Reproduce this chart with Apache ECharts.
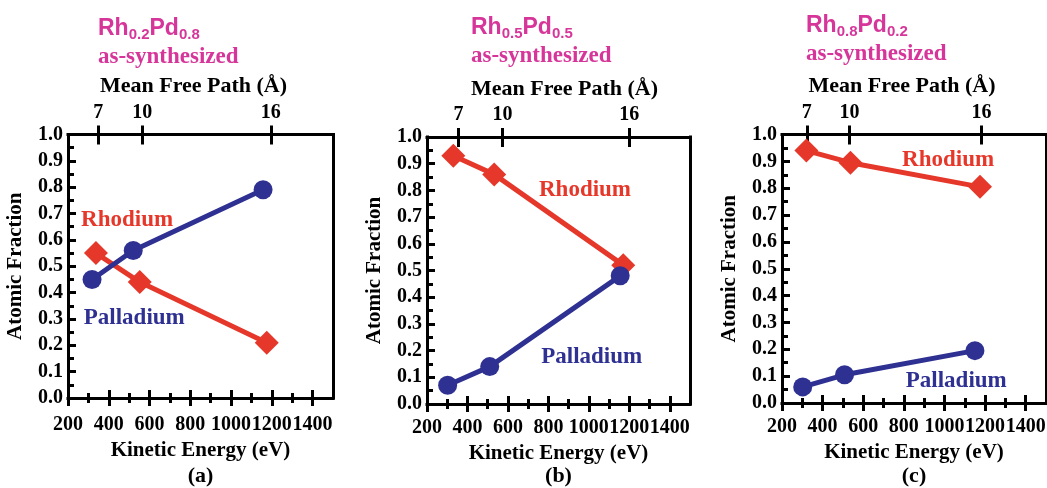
<!DOCTYPE html>
<html>
<head>
<meta charset="utf-8">
<title>Rh–Pd atomic fraction vs kinetic energy</title>
<script src="https://cdn.jsdelivr.net/npm/echarts@6/dist/echarts.min.js"></script>
<style>
  html, body { margin: 0; padding: 0; background: #ffffff; }
  #chart { width: 1047px; height: 488px; }
</style>
</head>
<body>
<div id="chart"></div>
<script>
// ---- data ----
// Compositions of the three as-synthesized samples
const rhComposition = ['0.2', '0.5', '0.8'];
const pdComposition = ['0.8', '0.5', '0.2'];
const panelLetters = ['(a)', '(b)', '(c)'];

// Kinetic energies (eV) of the Pd and Rh photoelectrons
const pdEnergyA = [318, 520, 1157];
const rhEnergyA = [337, 552, 1175];
const pdEnergyB = [302, 510, 1155];
const rhEnergyB = [330, 532, 1170];
const pdEnergyC = [302, 508, 1150];
const rhEnergyC = [320, 537, 1175];

// Atomic fractions
const pdFractionA = [0.45, 0.56, 0.79];
const rhFractionA = [0.55, 0.44, 0.21];
const pdFractionB = [0.07, 0.14, 0.48];
const rhFractionB = [0.93, 0.86, 0.52];
const pdFractionC = [0.06, 0.105, 0.195];
const rhFractionC = [0.94, 0.895, 0.805];

// Bottom axis ticks (eV)
const kineticTicks = [200, 400, 600, 800, 1000, 1200, 1400];
const kineticMinorTicks = [300, 500, 700, 900, 1100, 1300];

// Top axis: mean free path (Å) and the kinetic energy where each falls
const mfpLabels = ['7', '10', '16'];
const mfpEnergyA = [348, 564, 1195];
const mfpEnergyB = [356, 573, 1200];
const mfpEnergyC = [322, 532, 1183];

// Where the element names sit, in data coordinates [eV, fraction]
const rhNamePos = [[490, 0.675], [981, 0.80], [1018, 0.905]];
const pdNamePos = [[525, 0.304], [1014, 0.174], [1058, 0.082]];

// ---- styling / layout ----
const RED = '#e6382a';
const BLUE = '#2f3192';
const MAGENTA = '#d6369a';
const SERIF = '"Liberation Serif", "Times New Roman", serif';
const SANS = '"Liberation Sans", Arial, sans-serif';

const panels = [
  { grid: { left: 68, top: 134.5, width: 265, height: 263.5 }, titleLeft: 98, titleTop: 15,
    xGap: 42, xMargin: 17, mfpPad: [0, 14, 0, 0],
    pdE: pdEnergyA, rhE: rhEnergyA, pdF: pdFractionA, rhF: rhFractionA, mfpE: mfpEnergyA },
  { grid: { left: 427, top: 137, width: 263, height: 267 }, titleLeft: 471, titleTop: 14,
    xGap: 33, xMargin: 14, mfpPad: [0, 0, 0, 12],
    pdE: pdEnergyB, rhE: rhEnergyB, pdF: pdFractionB, rhF: rhFractionB, mfpE: mfpEnergyB },
  { grid: { left: 782, top: 134.5, width: 264, height: 268.5 }, titleLeft: 806, titleTop: 12,
    xGap: 36, xMargin: 14, mfpPad: [0, 24, 0, 0],
    pdE: pdEnergyC, rhE: rhEnergyC, pdF: pdFractionC, rhF: rhFractionC, mfpE: mfpEnergyC }
];

const black = { color: '#000', width: 3, cap: 'square' };
const tickFont = { color: '#000', fontFamily: SERIF, fontWeight: 'bold', fontSize: 20 };
const nameFont = { color: '#000', fontFamily: SERIF, fontWeight: 'bold', fontSize: 21 };
const tickLine = { color: '#000', width: 3 };

const option = {
  animation: false,
  backgroundColor: '#ffffff',
  grid: [], xAxis: [], yAxis: [], series: [], title: [], graphic: []
};

panels.forEach((p, i) => {
  option.grid.push(Object.assign({ containLabel: false, outerBoundsMode: 'none' }, p.grid));

  const baseX = {
    gridIndex: i, type: 'value', min: 200, max: 1500,
    splitLine: { show: false }
  };
  const hiddenLine = { show: false, onZero: false };
  const xBase = i * 6;

  // bottom axis: line, labels, outward major ticks
  option.xAxis.push(Object.assign({}, baseX, {
    position: 'bottom',
    name: 'Kinetic Energy (eV)', nameLocation: 'middle', nameGap: p.xGap,
    nameTextStyle: nameFont,
    axisLine: { show: true, onZero: false, lineStyle: black },
    axisTick: { show: true, inside: false, length: 8, customValues: kineticTicks, lineStyle: tickLine },
    axisLabel: Object.assign({ customValues: kineticTicks, margin: p.xMargin, formatter: (v) => String(v) }, tickFont)
  }));
  // bottom axis: inward major ticks
  option.xAxis.push(Object.assign({}, baseX, {
    position: 'bottom', axisLine: hiddenLine, axisLabel: { show: false },
    axisTick: { show: true, inside: true, length: 8, customValues: kineticTicks, lineStyle: tickLine }
  }));
  // bottom axis: outward minor ticks
  option.xAxis.push(Object.assign({}, baseX, {
    position: 'bottom', axisLine: hiddenLine, axisLabel: { show: false },
    axisTick: { show: true, inside: false, length: 5, customValues: kineticMinorTicks, lineStyle: tickLine }
  }));
  // bottom axis: inward minor ticks
  option.xAxis.push(Object.assign({}, baseX, {
    position: 'bottom', axisLine: hiddenLine, axisLabel: { show: false },
    axisTick: { show: true, inside: true, length: 5, customValues: kineticMinorTicks, lineStyle: tickLine }
  }));
  // top axis: mean free path, outward ticks + labels
  option.xAxis.push(Object.assign({}, baseX, {
    position: 'top',
    name: 'Mean Free Path (Å)', nameLocation: 'middle', nameGap: 35,
    nameTextStyle: Object.assign({ padding: p.mfpPad }, nameFont, { fontSize: 22 }),
    axisLine: { show: true, onZero: false, lineStyle: black },
    axisTick: { show: true, inside: false, length: 9, customValues: p.mfpE, lineStyle: tickLine },
    axisLabel: Object.assign({
      customValues: p.mfpE, margin: 12,
      formatter: (v) => {
        const k = p.mfpE.indexOf(v);
        return k >= 0 ? mfpLabels[k] : '';
      }
    }, tickFont)
  }));
  // top axis: inward ticks
  option.xAxis.push(Object.assign({}, baseX, {
    position: 'top', axisLine: hiddenLine, axisLabel: { show: false },
    axisTick: { show: true, inside: true, length: 10, customValues: p.mfpE, lineStyle: tickLine }
  }));

  // left axis: atomic fraction
  option.yAxis.push({
    gridIndex: i, type: 'value', position: 'left', min: 0, max: 1, interval: 0.1,
    name: 'Atomic Fraction', nameLocation: 'middle', nameGap: 42, nameRotate: 90,
    nameTextStyle: nameFont,
    splitLine: { show: false },
    axisLine: { show: true, onZero: false, lineStyle: black },
    axisTick: { show: true, inside: true, length: 8, lineStyle: tickLine },
    minorTick: { show: true, splitNumber: 2, length: 6, lineStyle: tickLine },
    axisLabel: Object.assign({ margin: 5, formatter: (v) => v.toFixed(1) }, tickFont)
  });
  // right frame edge
  option.yAxis.push({
    gridIndex: i, type: 'value', position: 'right', min: 0, max: 1,
    splitLine: { show: false },
    axisLine: { show: true, onZero: false, lineStyle: black },
    axisTick: { show: false }, axisLabel: { show: false }
  });

  const nameLabel = (color) => ({
    show: true, position: 'inside', formatter: '{b}',
    color: color, fontFamily: SERIF, fontWeight: 'bold', fontSize: 23
  });

  option.series.push({
    type: 'line', name: 'Rhodium', xAxisIndex: xBase, yAxisIndex: i * 2,
    data: p.rhE.map((e, k) => [e, p.rhF[k]]),
    symbol: 'diamond', symbolSize: 24,
    lineStyle: { color: RED, width: 5 }, itemStyle: { color: RED },
    z: 2,
    markPoint: {
      symbol: 'circle', symbolSize: 1, itemStyle: { color: 'rgba(0,0,0,0)' },
      label: nameLabel(RED),
      data: [{ name: 'Rhodium', coord: rhNamePos[i] }]
    }
  });
  option.series.push({
    type: 'line', name: 'Palladium', xAxisIndex: xBase, yAxisIndex: i * 2,
    data: p.pdE.map((e, k) => [e, p.pdF[k]]),
    symbol: 'circle', symbolSize: 19,
    lineStyle: { color: BLUE, width: 5 }, itemStyle: { color: BLUE },
    z: 3,
    markPoint: {
      symbol: 'circle', symbolSize: 1, itemStyle: { color: 'rgba(0,0,0,0)' },
      label: nameLabel(BLUE),
      data: [{ name: 'Palladium', coord: pdNamePos[i] }]
    }
  });

  // sample title
  option.title.push({
    left: p.titleLeft, top: p.titleTop, padding: 0,
    text: '{m|Rh}{s|' + rhComposition[i] + '}{m|Pd}{s|' + pdComposition[i] + '}\n{t|as-synthesized}',
    textStyle: {
      rich: {
        m: { fontFamily: SANS, fontWeight: 'bold', fontSize: 23, color: MAGENTA, lineHeight: 27, verticalAlign: 'bottom', padding: [0, 0, 2, 0] },
        s: { fontFamily: SANS, fontWeight: 'bold', fontSize: 15, color: MAGENTA, lineHeight: 27, verticalAlign: 'bottom' },
        t: { fontFamily: SERIF, fontWeight: 'bold', fontSize: 23, color: MAGENTA, lineHeight: 27, verticalAlign: 'bottom' }
      }
    }
  });

  // panel letter
  option.graphic.push({
    type: 'text', x: p.grid.left + p.grid.width / 2, y: 476,
    style: { text: panelLetters[i], fill: '#000', fontFamily: SERIF, fontWeight: 'bold', fontSize: 22, align: 'center', verticalAlign: 'middle' }
  });
});

const chart = echarts.init(document.getElementById('chart'), null, { renderer: 'canvas' });
chart.setOption(option);
</script>
</body>
</html>
